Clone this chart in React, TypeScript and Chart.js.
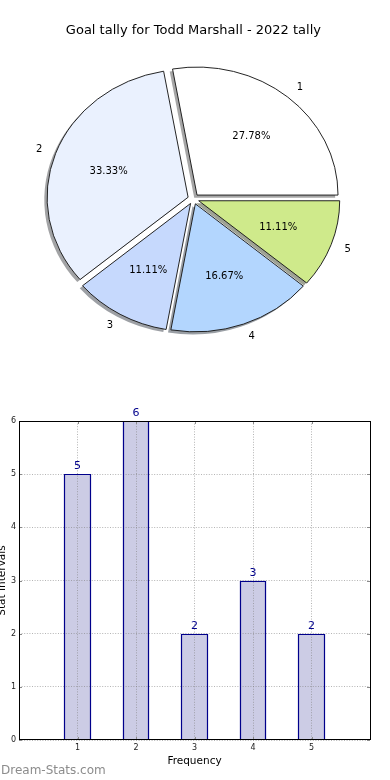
import React, { useEffect, useRef } from 'react';
import { Chart, registerables } from 'chart.js';

Chart.register(...registerables);

// ---------- data ----------
const TITLE = 'Goal tally for Todd Marshall - 2022 tally';
const SLICE_LABELS = ['1', '2', '3', '4', '5'];
const SLICE_VALUES = [5, 6, 2, 3, 2];
const SLICE_COLORS = ['#FFFFFF', '#EAF1FE', '#C6D9FD', '#B3D6FE', '#CFEA8B'];

const BAR_CATEGORIES = [1, 2, 3, 4, 5];
const BAR_VALUES = [5, 6, 2, 3, 2];
const X_TITLE = 'Frequency';
const Y_TITLE = 'Stat Intervals';
const WATERMARK = 'Dream-Stats.com';

// ---------- style constants ----------
const FONT = '"DejaVu Sans", "Liberation Sans", sans-serif';
const PIE_RADIUS = 141;
const ELLIPSE_K = 128 / 141;
const EXPLODE = 0.04;
const SHADOW = 0.02;

function shadowColor(hex: string) {
  const h = hex.replace('#', '');
  const r = parseInt(h.slice(0, 2), 16);
  const g = parseInt(h.slice(2, 4), 16);
  const b = parseInt(h.slice(4, 6), 16);
  return `rgba(${Math.round(r * 0.3)},${Math.round(g * 0.3)},${Math.round(b * 0.3)},0.5)`;
}

const piePlugin = {
  id: 'mplPie',
  beforeDatasetsDraw(chart: any) {
    const ctx = chart.ctx;
    const arcs = chart.getDatasetMeta(0).data;
    if (!arcs.length) return false;
    const cx = arcs[0].x;
    const cy = arcs[0].y;
    const R = arcs[0].outerRadius;
    const total = SLICE_VALUES.reduce((a, b) => a + b, 0);

    ctx.save();
    ctx.translate(cx, cy);
    ctx.scale(1, -ELLIPSE_K);
    ctx.translate(-cx, -cy);
    // shadows
    arcs.forEach((arc: any, i: number) => {
      const mid = (arc.startAngle + arc.endAngle) / 2;
      const dx = EXPLODE * R * Math.cos(mid);
      const dy = EXPLODE * R * Math.sin(mid);
      const orig = arc.options;
      const sc = shadowColor(SLICE_COLORS[i]);
      arc.options = Object.assign({}, orig, { backgroundColor: sc, borderColor: sc, borderWidth: 0 });
      ctx.save();
      ctx.translate(dx - SHADOW * R, dy - SHADOW * R);
      arc.draw(ctx);
      ctx.restore();
      arc.options = orig;
    });
    // wedges
    arcs.forEach((arc: any) => {
      const mid = (arc.startAngle + arc.endAngle) / 2;
      ctx.save();
      ctx.translate(EXPLODE * R * Math.cos(mid), EXPLODE * R * Math.sin(mid));
      arc.draw(ctx);
      ctx.restore();
    });
    ctx.restore();

    // labels
    ctx.save();
    ctx.fillStyle = '#000';
    ctx.font = `10px ${FONT}`;
    ctx.textBaseline = 'middle';
    arcs.forEach((arc: any, i: number) => {
      const mid = (arc.startAngle + arc.endAngle) / 2;
      const ex = EXPLODE * R * Math.cos(mid);
      const ey = EXPLODE * R * Math.sin(mid);
      const lx = cx + ex + 1.1 * R * Math.cos(mid);
      const ly = cy - ELLIPSE_K * (ey + 1.1 * R * Math.sin(mid));
      ctx.textAlign = Math.cos(mid) > 0 ? 'left' : 'right';
      ctx.fillText(SLICE_LABELS[i], lx, ly);
      const px = cx + ex + 0.6 * R * Math.cos(mid);
      const py = cy - ELLIPSE_K * (ey + 0.6 * R * Math.sin(mid));
      ctx.textAlign = 'center';
      ctx.fillText(((SLICE_VALUES[i] / total) * 100).toFixed(2) + '%', px, py);
    });
    ctx.restore();
    return false;
  },
};

const barPlugin = {
  id: 'mplBar',
  afterDraw(chart: any) {
    const ctx = chart.ctx;
    const { left, right, top, bottom } = chart.chartArea;
    const xs = chart.scales.x;
    const ys = chart.scales.y;
    ctx.save();
    // inside tick marks
    ctx.strokeStyle = '#8a8a8a';
    ctx.lineWidth = 1;
    ys.ticks.forEach((t: any) => {
      const y = Math.round(ys.getPixelForValue(t.value)) + 0.5;
      ctx.beginPath();
      ctx.moveTo(left, y); ctx.lineTo(left + 3, y);
      ctx.moveTo(right - 3, y); ctx.lineTo(right, y);
      ctx.stroke();
    });
    xs.ticks.forEach((t: any) => {
      const x = Math.round(xs.getPixelForValue(t.value)) + 0.5;
      ctx.beginPath();
      ctx.moveTo(x, top); ctx.lineTo(x, top + 3);
      ctx.moveTo(x, bottom - 3); ctx.lineTo(x, bottom);
      ctx.stroke();
    });
    // bar outlines (navy, on top of the grid like the reference)
    const bars = chart.getDatasetMeta(0).data;
    ctx.strokeStyle = '#00008B';
    ctx.lineWidth = 1.2;
    bars.forEach((bar: any) => {
      const w = bar.width;
      const x0 = Math.round(bar.x - w / 2) + 0.5;
      const x1 = Math.round(bar.x + w / 2) - 0.5;
      const y0 = Math.round(bar.y) + 0.5;
      const y1 = Math.round(bar.base);
      ctx.beginPath();
      ctx.moveTo(x0, y1); ctx.lineTo(x0, y0); ctx.lineTo(x1, y0); ctx.lineTo(x1, y1);
      ctx.stroke();
    });
    // frame
    ctx.strokeStyle = '#000';
    ctx.lineWidth = 1;
    ctx.strokeRect(Math.round(left) + 0.5, Math.round(top) + 0.5, Math.round(right - left), Math.round(bottom - top) - 1);
    // value labels
    ctx.fillStyle = '#00008B';
    ctx.font = `11px ${FONT}`;
    ctx.textAlign = 'center';
    ctx.textBaseline = 'alphabetic';
    bars.forEach((bar: any, i: number) => {
      ctx.fillText(String(BAR_VALUES[i]), bar.x, bar.y - 5);
    });
    // watermark
    ctx.fillStyle = '#8c8c8c';
    ctx.font = `12px ${FONT}`;
    ctx.textAlign = 'left';
    ctx.fillText(WATERMARK, 1, chart.height - 6);
    ctx.restore();
  },
};

function PieChart() {
  const ref = useRef<HTMLCanvasElement>(null);
  useEffect(() => {
    const chart = new Chart(ref.current as HTMLCanvasElement, {
      type: 'pie',
      data: {
        labels: SLICE_LABELS,
        datasets: [
          {
            data: SLICE_VALUES,
            backgroundColor: SLICE_COLORS,
            borderColor: '#1a1a1a',
            borderWidth: 1,
            borderJoinStyle: 'miter',
            offset: 0,
            hoverOffset: 0,
          } as any,
        ],
      },
      options: {
        responsive: false,
        devicePixelRatio: 1,
        animation: false,
        rotation: 90,
        radius: PIE_RADIUS,
        layout: { padding: { top: 0, left: 0, right: 3.2, bottom: 28.6 } },
        plugins: {
          legend: { display: false },
          tooltip: { enabled: false },
          title: {
            display: true,
            text: TITLE,
            color: '#000',
            font: { family: FONT, size: 13, weight: 'normal' },
            padding: { top: 23, bottom: 8 },
          },
        },
      } as any,
      plugins: [piePlugin],
    });
    return () => chart.destroy();
  }, []);
  return <canvas ref={ref} width={390} height={380} style={{ position: 'absolute', left: 0, top: 0, width: 390, height: 380 }} />;
}

function BarChart() {
  const ref = useRef<HTMLCanvasElement>(null);
  useEffect(() => {
    const gridStyle = { color: 'rgba(130,130,130,0.6)', lineWidth: 1, drawTicks: false, z: 1 };
    const chart = new Chart(ref.current as HTMLCanvasElement, {
      type: 'bar',
      data: {
        datasets: [
          {
            data: BAR_CATEGORIES.map((c, i) => ({ x: c, y: BAR_VALUES[i] })),
            backgroundColor: '#CCCCE5',
            borderWidth: 0,
            borderSkipped: false,
            inflateAmount: 0,
            barPercentage: 0.45,
            categoryPercentage: 1,
          } as any,
        ],
      },
      options: {
        responsive: false,
        devicePixelRatio: 1,
        animation: false,
        layout: { padding: { left: 0, right: 20, top: 41, bottom: 0 } },
        plugins: { legend: { display: false }, tooltip: { enabled: false } },
        scales: {
          x: {
            type: 'linear',
            min: 0,
            max: 6,
            offset: false,
            grid: { ...gridStyle, offset: false },
            border: { display: false, dash: [1, 1.6] },
            ticks: {
              stepSize: 1,
              padding: 3,
              color: '#222',
              font: { family: FONT, size: 8 },
              maxRotation: 0,
              callback: (v: any) => (BAR_CATEGORIES.includes(v) ? String(v) : ''),
            },
            title: {
              display: true,
              text: X_TITLE,
              color: '#000',
              font: { family: FONT, size: 10.5 },
              padding: { top: 0, bottom: 12 },
            },
            afterFit: (s: any) => { s.height = 40; },
          },
          y: {
            min: 0,
            max: 6,
            grid: gridStyle,
            border: { display: false, dash: [1, 1.6] },
            ticks: { stepSize: 1, padding: 3, color: '#222', font: { family: FONT, size: 8 } },
            title: {
              display: true,
              text: Y_TITLE,
              color: '#000',
              font: { family: FONT, size: 10.5 },
              padding: { top: -4, bottom: 0 },
            },
            afterFit: (s: any) => { s.width = 19; },
          },
        },
      } as any,
      plugins: [barPlugin],
    });
    return () => chart.destroy();
  }, []);
  return <canvas ref={ref} width={390} height={400} style={{ position: 'absolute', left: 0, top: 380, width: 390, height: 400 }} />;
}

export default function App() {
  return (
    <div style={{ position: 'absolute', left: 0, top: 0, width: 390, height: 780, background: '#fff', overflow: 'hidden' }}>
      <PieChart />
      <BarChart />
    </div>
  );
}
